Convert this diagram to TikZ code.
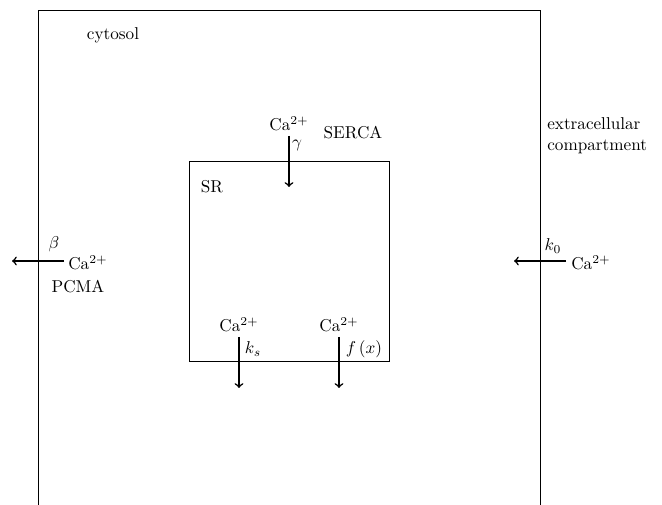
\documentclass[tikz,border=0pt]{standalone}
\usetikzlibrary{arrows}
\begin{document}
\begin{tikzpicture}[x=0.5828pt,y=-0.5828pt,
  wall/.style={line width=0.5pt},
  flux/.style={line width=0.9pt,->},
  lbl/.style={inner sep=0pt,font=\fontsize{10}{12}\selectfont}]
\useasboundingbox (0,0) rectangle (662,505);
% outer cell
\draw[wall] (38,505) -- (38,10) -- (540,10) -- (540,505);
\node[lbl] (cyt) at (113,35) {cytosol};
\node[lbl,align=left,anchor=west] (ext) at (547,136) {extracellular\\compartment};
% SR
\draw[wall] (189,161) rectangle (389,361);
\node[lbl] (sr) at (212,187) {SR};
% SERCA
\node[lbl] (caS) at (289,124) {Ca$^{2+}$};
\coordinate (serE) at (289,187);
\draw[flux] (289,136) -- (serE);
\node[lbl] (gam) at (297,145) {$\gamma$};
\node[lbl] (serca) at (353,133) {SERCA};
% PMCA
\node[lbl,anchor=west] (caP) at (68,263) {Ca$^{2+}$};
\coordinate (pE) at (12,261);
\draw[flux] (64,261) -- (pE);
\node[lbl] (beta) at (54,244) {$\beta$};
\node[lbl] (pcma) at (78,287) {PCMA};
% leak out
\node[lbl,anchor=west] (caK) at (571,263) {Ca$^{2+}$};
\coordinate (kE) at (514,261);
\draw[flux] (566,261) -- (kE);
\node[lbl] (k0) at (553,246) {$k_0$};
% SR release
\node[lbl] (caA) at (239,325) {Ca$^{2+}$};
\coordinate (aE) at (239,388);
\draw[flux] (239,337) -- (aE);
\node[lbl] (ks) at (253,349) {$k_s$};
\node[lbl] (caB) at (339,325) {Ca$^{2+}$};
\coordinate (bE) at (339,388);
\draw[flux] (339,337) -- (bE);
\node[lbl] (fx) at (364,349) {$f\left(x\right)$};
\end{tikzpicture}
\end{document}
